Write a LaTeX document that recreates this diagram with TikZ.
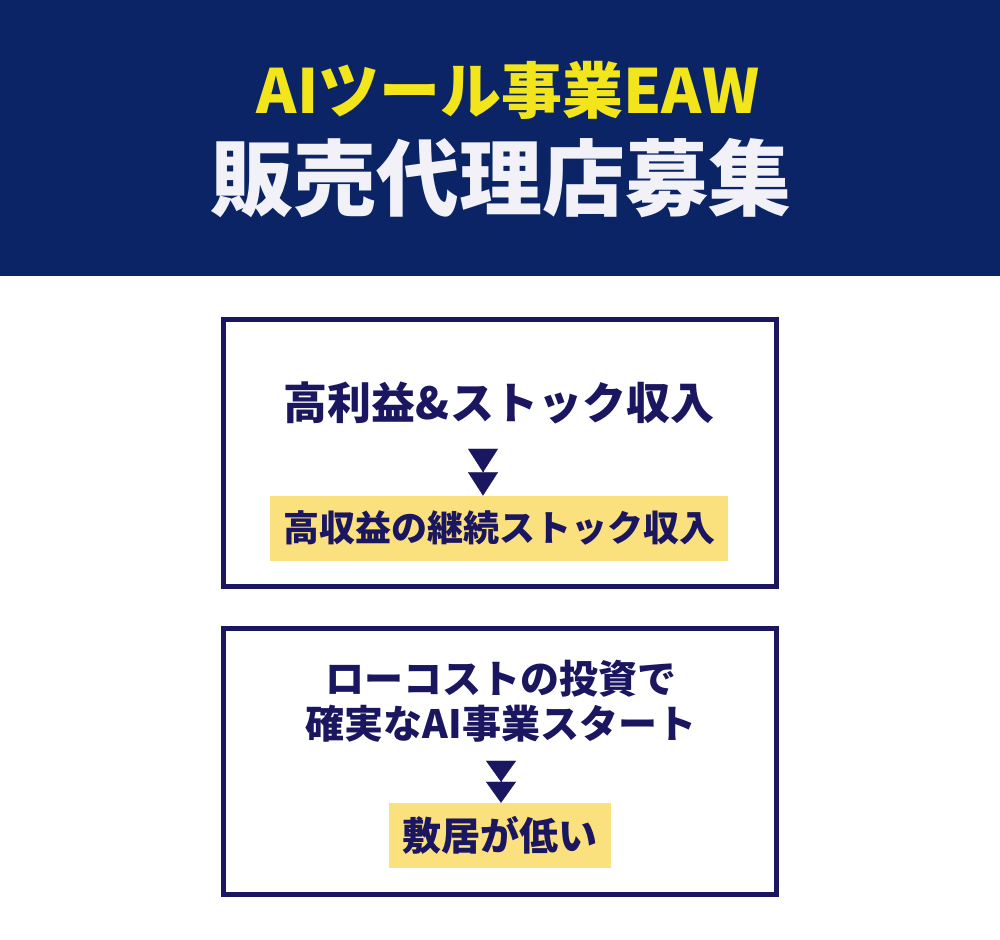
\documentclass[tikz,border=0pt]{standalone}
\usepackage{fontspec}
\setmainfont{Noto Sans CJK JP}
\usetikzlibrary{arrows.meta}

\definecolor{navy}{HTML}{0B2466}
\definecolor{ink}{HTML}{1B1660}
\definecolor{lemon}{HTML}{F3E51B}
\definecolor{cream}{HTML}{FBE07E}
\definecolor{snow}{HTML}{F2F1F8}

\begin{document}
\begin{tikzpicture}[x=1pt,y=-1pt]
    \tikzstyle{Band} = [
            fill=navy,
            inner sep=0pt,
            minimum width=1000pt,
            minimum height=276pt,
            anchor=north west
    ];
    \tikzstyle{Catch} = [
            text=lemon,
            inner sep=0pt,
            font={\bfseries\fontsize{61pt}{64pt}\selectfont}
    ];
    \tikzstyle{Headline} = [
            text=snow,
            inner sep=0pt,
            font={\bfseries\fontsize{83pt}{86pt}\selectfont}
    ];
    \tikzstyle{Box} = [
            draw=ink,
            line width=5pt,
            rectangle,
            inner sep=0pt,
            minimum width=553.3pt
    ];
    \tikzstyle{Lead} = [
            text=ink,
            inner sep=0pt,
            align=center,
            font={\bfseries\fontsize{39pt}{45pt}\selectfont}
    ];
    \tikzstyle{LeadBig} = [
            Lead,
            font={\bfseries\fontsize{44pt}{48pt}\selectfont}
    ];
    \tikzstyle{Note} = [
            Lead,
            fill=cream,
            minimum height=65pt
    ];
    \tikzstyle{NoteSmall} = [
            Note,
            font={\bfseries\fontsize{36pt}{40pt}\selectfont}
    ];
    \tikzstyle{Mark} = [
            draw=ink,
            fill=ink,
            line width=0.1pt
    ];

    \useasboundingbox (0,0) rectangle (1000,939);

    % header
    \node[Band, name=Header]      at (0,0)     {};
    \node[Catch, name=Catch]      at (508,90)  {AIツール事業EAW};
    \node[Headline, name=Title]   at (501,178) {販売代理店募集};

    % first box
    \node[Box, minimum height=267pt, name=Merit] at (500,453) {};
    \node[LeadBig, name=MeritText] at (499,403)   {高利益\&ストック収入};
    \node[NoteSmall, minimum width=458pt, name=MeritNote] at (499,528.3) {高収益の継続ストック収入};
    \coordinate (MeritTop) at (483,449);

    % second box
    \node[Box, minimum height=266pt, name=Cost] at (500,761.5) {};
    \node[Lead, name=CostText]    at (501,701) {ローコストの投資で\\確実なAI事業スタート};
    \node[Note, minimum width=222pt, name=CostNote] at (500,835.5) {敷居が低い};
    \coordinate (CostTop) at (501,761);

    \draw[Mark, -{Triangle[width=30pt,length=23.4pt]Triangle[width=30pt,length=23.4pt]}]
          (MeritTop) -- (MeritTop |- MeritNote.north);
    \draw[Mark, -{Triangle[width=30pt,length=21pt]Triangle[width=30pt,length=21pt]}]
          (CostTop) -- (CostTop |- CostNote.north);
\end{tikzpicture}
\end{document}
